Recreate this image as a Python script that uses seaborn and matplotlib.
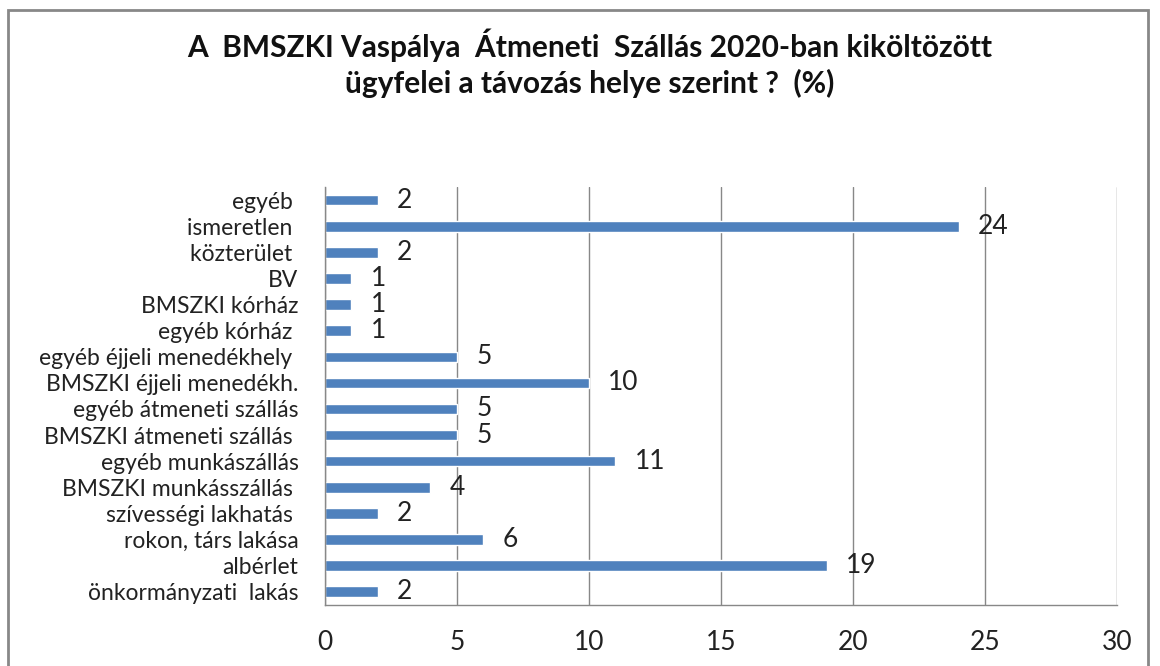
import matplotlib
matplotlib.use("Agg")
import matplotlib.pyplot as plt
import seaborn as sns
import pandas as pd
import numpy as np
from matplotlib.patches import Rectangle

categories = [
    "egyéb ",
    "ismeretlen ",
    "közterület ",
    "BV",
    "BMSZKI kórház",
    "egyéb kórház ",
    "egyéb éjjeli menedékhely ",
    "BMSZKI éjjeli menedékh.",
    "egyéb átmeneti szállás",
    "BMSZKI átmeneti szállás ",
    "egyéb munkászállás",
    "BMSZKI munkásszállás ",
    "szívességi lakhatás ",
    "rokon, társ lakása",
    "albérlet",
    "önkormányzati  lakás",
]
values = [2, 24, 2, 1, 1, 1, 5, 10, 5, 5, 11, 4, 2, 6, 19, 2]
xticks = [0, 5, 10, 15, 20, 25, 30]
title = "A  BMSZKI Vaspálya  Átmeneti  Szállás 2020-ban kiköltözött\nügyfelei a távozás helye szerint ?  (%)"

df = pd.DataFrame({"hely": categories, "arany": values})

sns.set_style("white")
plt.rcParams["font.family"] = ["Lato", "DejaVu Sans"]

fig = plt.figure(figsize=(11.6, 6.66), dpi=100)
ax = fig.add_axes([0.280, 0.092, 0.683, 0.627])

sns.barplot(data=df, x="arany", y="hely", order=categories, orient="h",
            color="#4F81BD", saturation=1, width=0.4, ax=ax)

ax.bar_label(ax.containers[0], padding=14, fontsize=19, color="#222222")

ax.set_xlim(0, 30)
ax.set_ylim(len(categories) - 0.5, -0.5)
ax.set_xticks(xticks)
ax.set_xticklabels([str(t) for t in xticks], fontsize=19, color="#222222")
ax.tick_params(axis="x", length=6, color="#888888", pad=12)
ax.tick_params(axis="y", which="major", length=0, labelsize=16.5, pad=19)
ax.set_yticks(np.arange(-0.5, len(categories)), minor=True)
ax.tick_params(axis="y", which="minor", length=6, color="#888888")
for lab in ax.get_yticklabels():
    lab.set_color("#222222")

ax.grid(axis="x", color="#888888", linewidth=1)
ax.set_axisbelow(True)
ax.set_xlabel("")
ax.set_ylabel("")
for side in ["top", "right"]:
    ax.spines[side].set_visible(False)
for side in ["left", "bottom"]:
    ax.spines[side].set_color("#888888")
    ax.spines[side].set_linewidth(1)

fig.text(0.508, 0.905, title, ha="center", va="center", fontsize=21.5,
         fontweight="bold", linespacing=1.3, color="#111111")

# chart border
fig.patches.append(Rectangle((0.007, -0.05), 0.983, 1.035, transform=fig.transFigure,
                             fill=False, edgecolor="#888888", linewidth=2))

fig.savefig("out.png", dpi=100)
